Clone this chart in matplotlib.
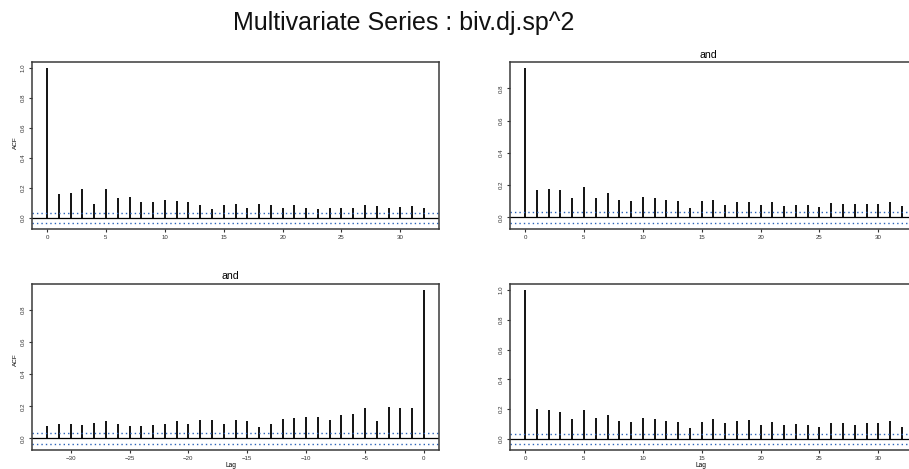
import numpy as np
import matplotlib
matplotlib.use("Agg")
import matplotlib.pyplot as plt

plt.rcParams['font.family'] = ['Liberation Sans', 'DejaVu Sans']

# ---- DATA ----
lags_pos = np.arange(0, 33)
lags_neg = np.arange(-32, 1)

acf_dj = [1.0, 0.156, 0.165, 0.194, 0.094, 0.19, 0.132, 0.138, 0.105, 0.105,
          0.118, 0.112, 0.105, 0.083, 0.058, 0.085, 0.092, 0.063, 0.092, 0.083,
          0.069, 0.089, 0.063, 0.058, 0.067, 0.063, 0.069, 0.085, 0.080, 0.065,
          0.074, 0.078, 0.067]

ccf_dj_sp = [0.925, 0.170, 0.178, 0.170, 0.118, 0.186, 0.122, 0.149, 0.105, 0.099,
             0.128, 0.122, 0.105, 0.103, 0.060, 0.103, 0.107, 0.076, 0.097, 0.097,
             0.076, 0.097, 0.072, 0.079, 0.079, 0.066, 0.091, 0.085, 0.081, 0.085,
             0.085, 0.097, 0.068]

ccf_sp_dj = [0.080, 0.092, 0.088, 0.086, 0.098, 0.108, 0.088, 0.080, 0.080, 0.082,
             0.092, 0.110, 0.088, 0.117, 0.115, 0.092, 0.117, 0.106, 0.074, 0.088,
             0.123, 0.129, 0.135, 0.131, 0.117, 0.145, 0.149, 0.190, 0.110, 0.194,
             0.190, 0.190, 0.921]

acf_sp = [1.0, 0.198, 0.194, 0.183, 0.134, 0.194, 0.140, 0.160, 0.120, 0.116,
          0.140, 0.134, 0.120, 0.116, 0.073, 0.116, 0.134, 0.105, 0.120, 0.127,
          0.094, 0.114, 0.094, 0.100, 0.094, 0.082, 0.109, 0.105, 0.094, 0.105,
          0.105, 0.120, 0.078]

ci = 0.0333

W, H = 909, 469
fig = plt.figure(figsize=(W / 100, H / 100), dpi=100)


def px_axes(x0, y0, x1, y1):
    # pixel box (top-left origin) -> figure fraction
    return fig.add_axes([x0 / W, 1 - y1 / H, (x1 - x0) / W, (y1 - y0) / H])


def acf_panel(ax, lags, vals, yticks, xticks):
    ax.vlines(lags, 0, vals, color='black', lw=1.3)
    ax.axhline(0, color='black', lw=0.9)
    # dotted confidence bounds
    ax.axhline(ci, color='#2a62b8', lw=1.0, ls=(0, (1.0, 2.2)))
    ax.axhline(-ci, color='#2a62b8', lw=1.0, ls=(0, (1.0, 2.2)))
    lo = min(min(vals), -ci)
    hi = max(max(vals), ci)
    pad = 0.04 * (hi - lo)
    ax.set_ylim(lo - pad, hi + pad)
    xl, xh = lags.min(), lags.max()
    xpad = 0.04 * (xh - xl)
    ax.set_xlim(xl - xpad, xh + xpad)
    ax.set_yticks(yticks)
    ax.set_yticklabels(['%.1f' % v for v in yticks], rotation=90, va='center')
    ax.set_xticks(xticks)
    ax.tick_params(labelsize=4.4, length=2.5, width=0.8, pad=2,
                   colors='#333333')
    for s in ax.spines.values():
        s.set_color('#3a3a3a')
        s.set_linewidth(1.1)


ax1 = px_axes(32, 62, 439, 229)
acf_panel(ax1, lags_pos, acf_dj, np.arange(0, 1.01, 0.2), np.arange(0, 31, 5))

ax2 = px_axes(510, 62, 917, 229)
acf_panel(ax2, lags_pos, ccf_dj_sp, np.arange(0, 0.81, 0.2), np.arange(0, 31, 5))

ax3 = px_axes(32, 284, 439, 450)
acf_panel(ax3, lags_neg, ccf_sp_dj, np.arange(0, 0.81, 0.2), np.arange(-30, 1, 5))

ax4 = px_axes(510, 284, 917, 450)
acf_panel(ax4, lags_pos, acf_sp, np.arange(0, 1.01, 0.2), np.arange(0, 31, 5))

# ---- TEXT ----
fig.text(404 / W, 1 - 23 / H, "Multivariate Series : biv.dj.sp^2",
         ha='center', va='center', fontsize=18, color='#111111')
fig.text(708 / W, 1 - 55 / H, "and", ha='center', va='center', fontsize=7.6)
fig.text(230 / W, 1 - 276 / H, "and", ha='center', va='center', fontsize=7.6)
fig.text(15 / W, 1 - 143 / H, "ACF", ha='center', va='center', rotation=90,
         fontsize=4.6)
fig.text(15 / W, 1 - 360 / H, "ACF", ha='center', va='center', rotation=90,
         fontsize=4.6)
fig.text(231 / W, 1 - 465 / H, "Lag", ha='center', va='center', fontsize=4.8)
fig.text(701 / W, 1 - 465 / H, "Lag", ha='center', va='center', fontsize=4.8)

fig.savefig("out.png", dpi=100)
